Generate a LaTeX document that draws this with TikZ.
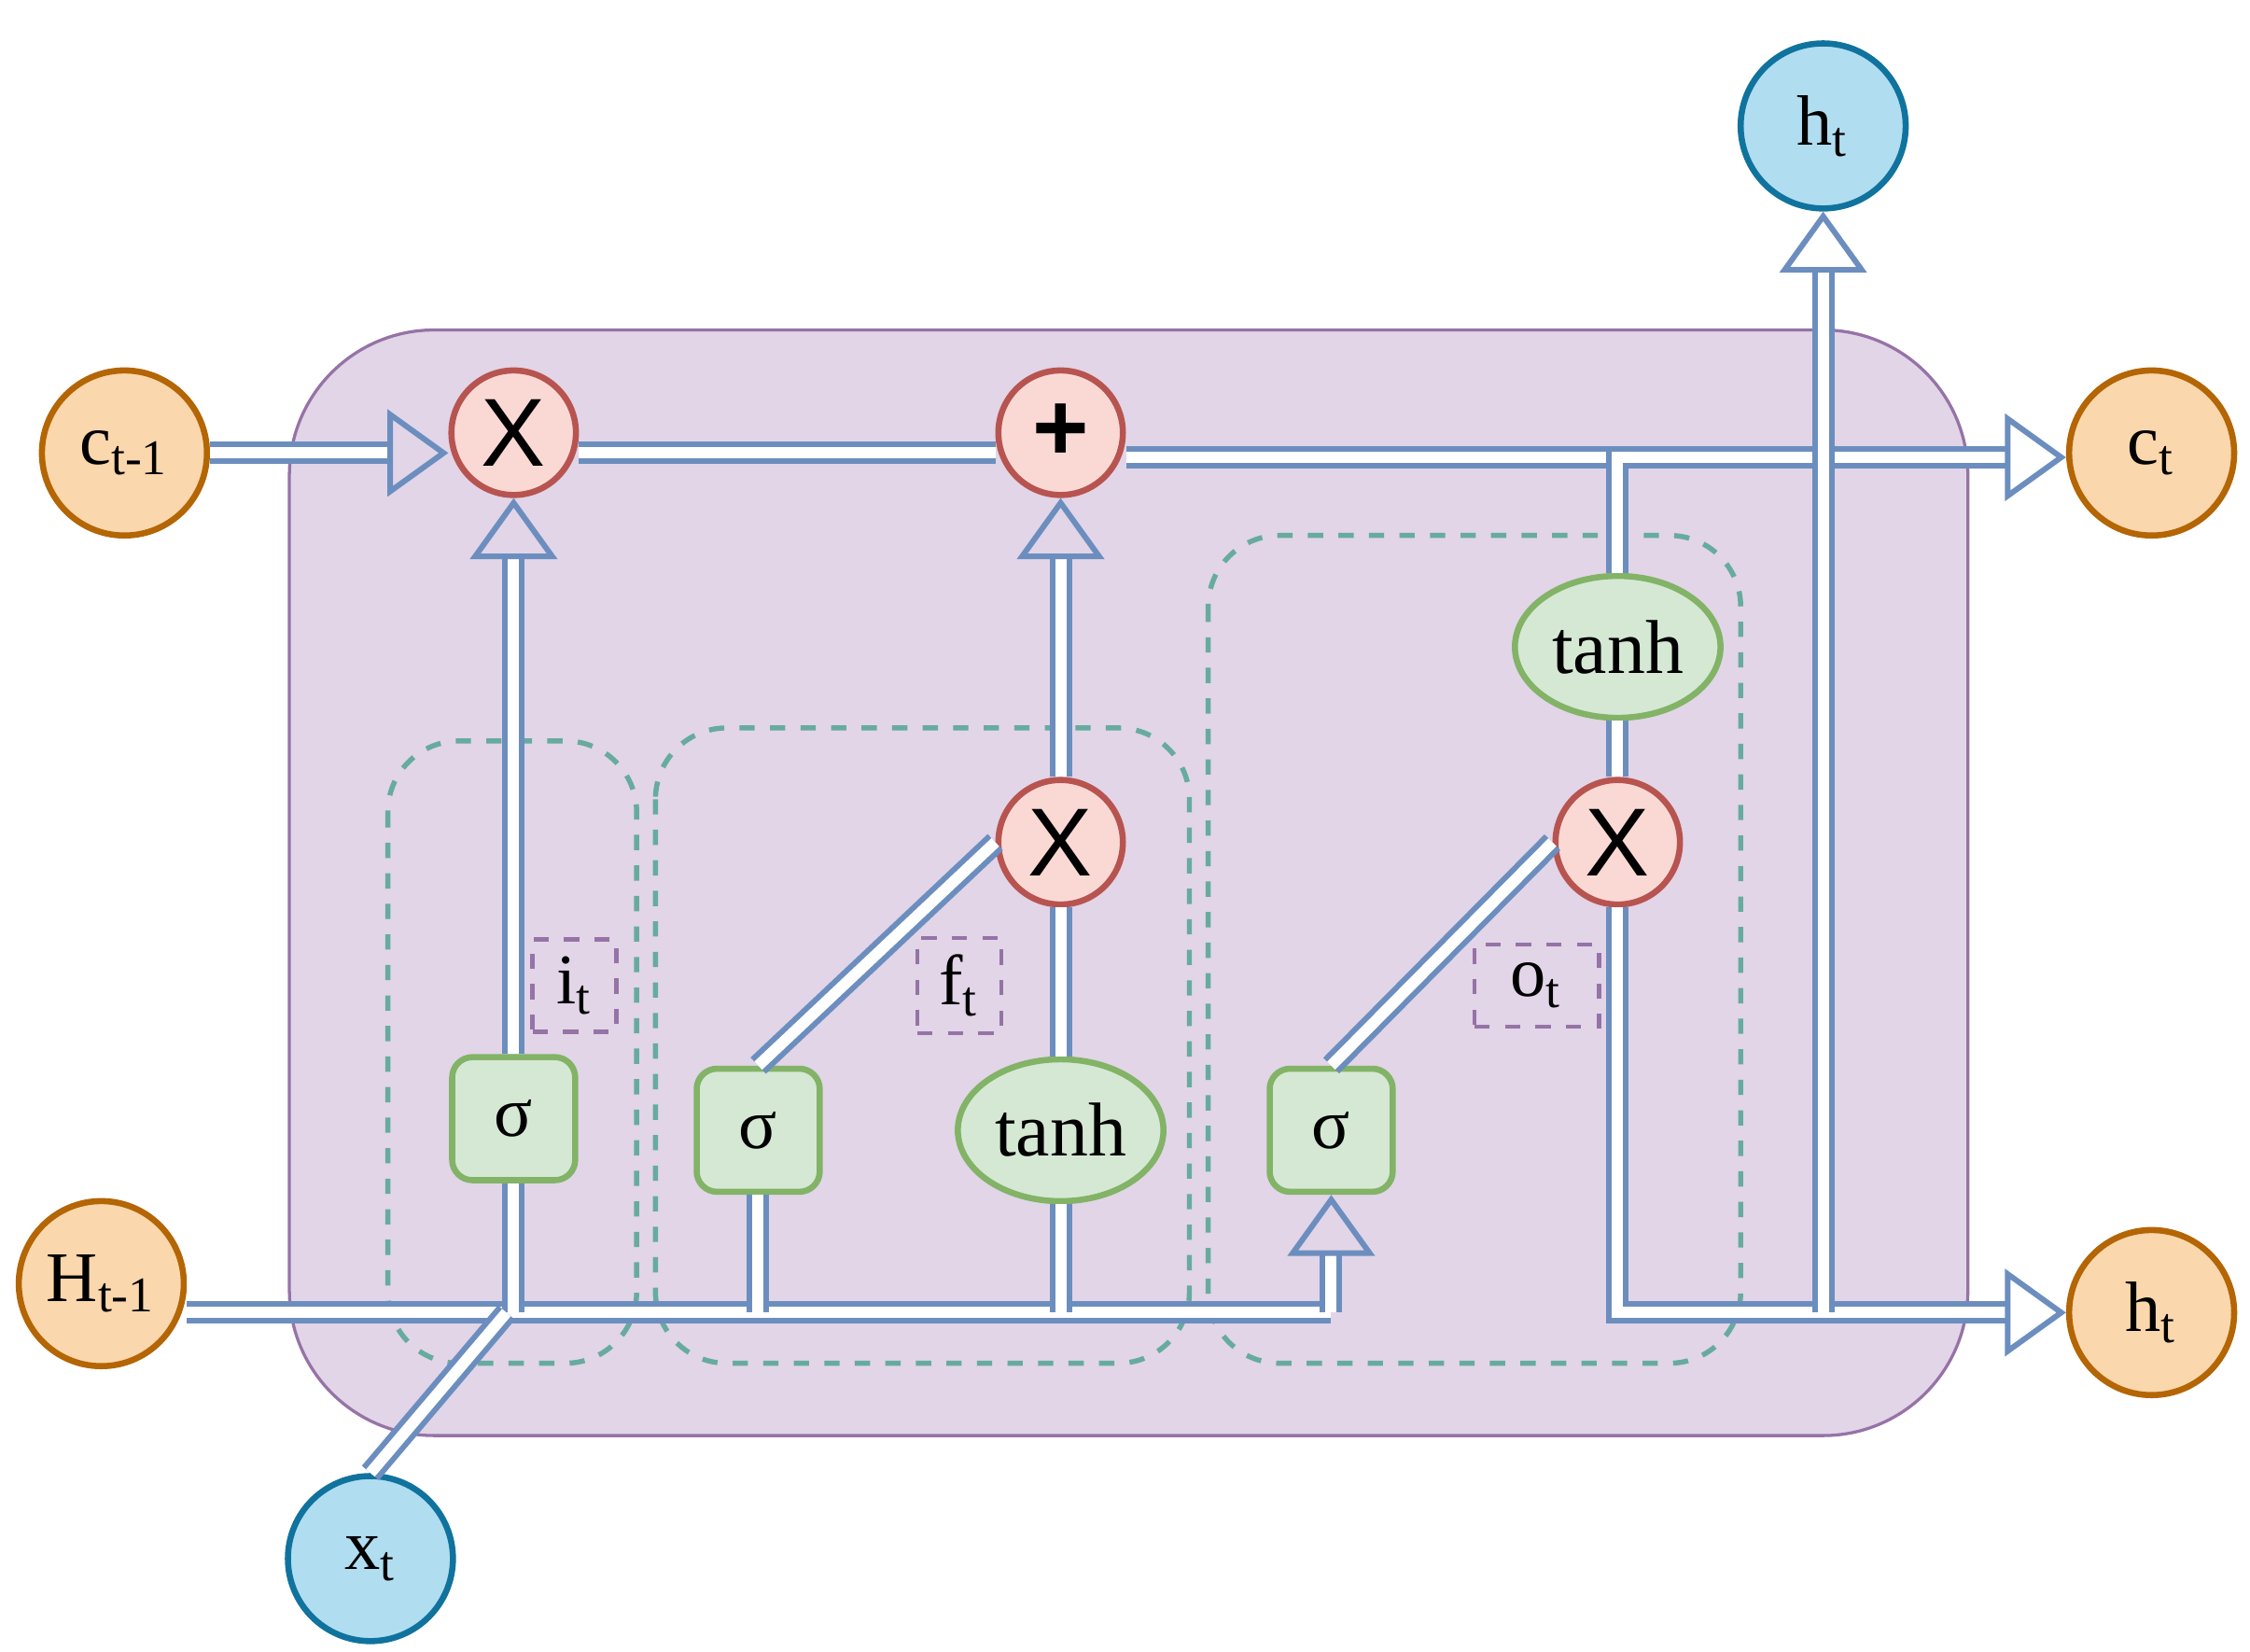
\documentclass[tikz,border=0pt]{standalone}
\usepackage{fontspec}
\setmainfont{Liberation Serif}
\newfontfamily\sansf{Liberation Sans}
\usetikzlibrary{arrows.meta,shapes.geometric}
\definecolor{lb}{HTML}{6C8EBF}
\definecolor{pur}{HTML}{E1D5E7}
\definecolor{purd}{HTML}{9673A6}
\definecolor{orf}{HTML}{FAD7AC}
\definecolor{ord}{HTML}{B46504}
\definecolor{blf}{HTML}{B1DDF0}
\definecolor{bld}{HTML}{10739E}
\definecolor{rf}{HTML}{FAD9D5}
\definecolor{rd}{HTML}{B85450}
\definecolor{gf}{HTML}{D5E8D4}
\definecolor{gd}{HTML}{82B366}
\definecolor{teal}{HTML}{67AB9F}
\begin{document}
\begin{tikzpicture}[x=0.01cm,y=-0.01cm,
 io/.style={circle,minimum size=1.14cm,inner sep=0,line width=1.2pt,font=\fontsize{14}{16}\selectfont},
 orn/.style={io,fill=orf,draw=ord},
 bln/.style={io,fill=blf,draw=bld},
 op/.style={circle,minimum size=0.86cm,inner sep=0,fill=rf,draw=rd,line width=1.2pt,font=\sansf\fontsize{19}{21}\selectfont},
 sg/.style={rectangle,rounded corners=4pt,minimum size=0.85cm,inner sep=0,fill=gf,draw=gd,line width=1.2pt,font=\fontsize{14}{16}\selectfont},
 th/.style={ellipse,minimum width=1.42cm,minimum height=0.98cm,inner sep=0,fill=gf,draw=gd,line width=1.2pt,font=\fontsize{15}{17}\selectfont},
 grp/.style={draw=teal,dashed,line width=1pt,rounded corners=14pt},
 lab/.style={draw=purd,dashed,line width=0.8pt,font=\fontsize{14}{16}\selectfont},
 dl/.style={draw=lb,line width=1.1pt,double=white,double distance=2.2pt},
 ar/.style={dl,-{Triangle[open,length=12pt,width=17pt,line width=1.1pt]}}]
\useasboundingbox (0,0) rectangle (1555,1141);
\fill[pur,draw=purd,line width=0.6pt,rounded corners=1cm] (200,228) rectangle (1360,992);
\draw[grp] (268,512) rectangle (440,942);
\draw[grp] (453,503) rectangle (822,942);
\draw[grp] (835,370) rectangle (1203,942);
\node[lab,minimum width=0.58cm,minimum height=0.57cm] (li) at (397,681) {i\textsubscript{t}};
\node[lab,minimum width=0.58cm,minimum height=0.57cm] (lf) at (663,681) {f\textsubscript{t}};
\node[lab,minimum width=0.86cm,minimum height=0.57cm] (lo) at (1062,681) {o\textsubscript{t}};
\node[orn] (c0) at (86,313) {c\textsubscript{t-1}};
\node[orn] (H0) at (70,887) {H\textsubscript{t-1}};
\node[bln] (x) at (256,1077) {x\textsubscript{t}};
\node[bln] (ht) at (1260,87) {h\textsubscript{t}};
\node[orn] (c1) at (1487,313) {c\textsubscript{t}};
\node[orn] (h1) at (1487,907) {h\textsubscript{t}};
\node[op] (m1) at (355,299) {X};
\node[op] (pl) at (733,299) {\textbf{+}};
\node[op] (m2) at (733,582) {X};
\node[op] (m3) at (1118,582) {X};
\node[sg] (s1) at (355,773) {σ};
\node[sg] (s2) at (524,781) {σ};
\node[sg] (s3) at (920,781) {σ};
\node[th] (t1) at (733,781) {tanh};
\node[th] (t2) at (1118,447) {tanh};
\coordinate (j) at (350,907);
\coordinate (hr) at (920,907);
\coordinate (k) at (1118,907);
\coordinate (b) at (1260,907);
\draw[ar] (c0.east|-0,313) -- (m1.west|-0,313);
\draw[dl] (m1.east|-0,313) -- (pl.west|-0,313);
\draw[ar] (pl.east|-0,316) -- (c1.west|-0,316);
\draw[ar] (s1.north) -- (m1.south);
\draw[ar] (m2.north) -- (pl.south);
\draw[dl] (s2.north) -- (m2.west);
\draw[dl] (t1.north) -- (m2.south);
\draw[dl] (s3.north) -- (m3.west);
\draw[dl] (t2.south) -- (m3.north);
\draw[dl] (t2.north) -- (1118,316) -- (1145,316);
\draw[dl] (H0.east|-0,907) -- (hr);
\draw[ar] (hr) -- (s3.south);
\draw[dl] (s1.south) -- (355,907);
\draw[dl] (s2.south) -- (524,907);
\draw[dl] (t1.south) -- (733,907);
\draw[dl] (x.north) -- (j);
\draw[ar] (m3.south) -- (k) -- (h1.west|-0,907);
\draw[ar] (b) -- (ht.south);
\end{tikzpicture}
\end{document}
